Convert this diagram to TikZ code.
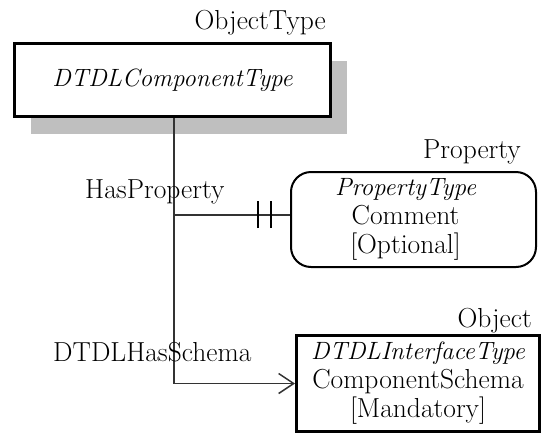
\documentclass[tikz,border=0pt]{standalone}
\usetikzlibrary{arrows.meta,shadows}
\begin{document}
\begin{tikzpicture}[x=1pt,y=-1pt,
  txt/.style={font=\fontsize{27.5}{29}\selectfont},
  itx/.style={font=\fontsize{25}{29}\selectfont\itshape},
  lbl/.style={txt,inner sep=0pt},
  conn/.style={draw=black!80,line width=1.3pt},
  boxtxt/.style={txt,align=center,inner sep=0pt}]
\useasboundingbox (0,0) rectangle (550,440);
% main object type box
\node[boxtxt,itx,draw,line width=3pt,fill=white,minimum width=316pt,minimum height=73pt,
  drop shadow={shadow xshift=16pt,shadow yshift=-17pt,fill=black!25,opacity=1}]
  (main) at (172.5,80) {DTDLComponentType};
\node[lbl,anchor=base east] (mainlbl) at (326,29) {ObjectType};
% property box
\node[boxtxt,draw,line width=2pt,rounded corners=20pt,minimum width=245pt,minimum height=95pt]
  (prop) at (413.5,219.5) {\hbox{\fontsize{25}{29}\selectfont\itshape PropertyType\kern16pt}\\\hbox{Comment\kern16pt}\\\hbox{[Optional]\kern16pt}};
\node[lbl,anchor=base east] (proplbl) at (521,158) {Property};
% object box
\node[boxtxt,draw,line width=3pt,minimum width=243pt,minimum height=96pt]
  (obj) at (418,383.5) {{\fontsize{25}{29}\selectfont\itshape DTDLInterfaceType}\\ComponentSchema\\{}[Mandatory]};
\node[lbl,anchor=base east] (objlbl) at (532,327) {Object};
% connectors
\coordinate (pj) at ([yshift=4.5pt]prop.west);
\coordinate (vj) at (main.south |- pj);
\draw[conn] ([xshift=1.5pt]main.south) -- ([xshift=1.5pt]main.south |- obj.west) coordinate (oj);
\draw[conn,-{Straight Barb[length=15pt,width=20pt,line width=1.5pt]}] (oj) -- (obj.west);
\draw[conn] ([xshift=1.5pt]vj) -- (pj);
\draw[line width=2pt] ([xshift=-32pt,yshift=-13pt]pj) -- ([xshift=-32pt,yshift=14pt]pj);
\draw[line width=2pt] ([xshift=-19pt,yshift=-13pt]pj) -- ([xshift=-19pt,yshift=14pt]pj);
% relation labels
\node[lbl,anchor=base west] (hp) at (85,198) {HasProperty};
\node[lbl,anchor=base west] (hs) at (53,361) {DTDLHasSchema};
\end{tikzpicture}
\end{document}
